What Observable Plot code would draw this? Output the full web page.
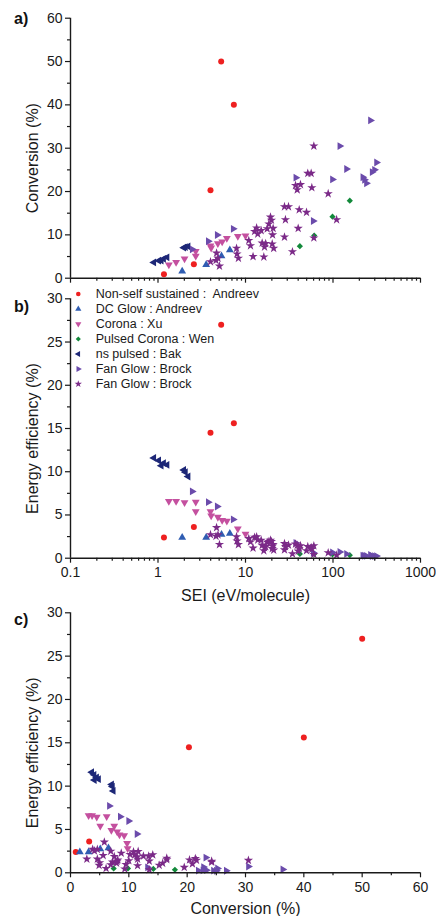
<!DOCTYPE html>
<html><head><meta charset="utf-8">
<script src="https://cdn.jsdelivr.net/npm/d3@7"></script>
<script src="https://cdn.jsdelivr.net/npm/@observablehq/plot@0.6"></script>
<style>
html,body{margin:0;padding:0;background:#fff;}
#wrap{position:relative;width:436px;height:916px;overflow:hidden;font-family:"Liberation Sans",Arial,sans-serif;}
.plabel{position:absolute;left:14px;font:bold 16px "Liberation Sans",Arial,sans-serif;color:#111;line-height:1;}
</style></head><body><div id="wrap"></div>
<script>
// ---------------- data ----------------
const seriesNames = ["Non-self sustained :  Andreev","DC Glow : Andreev","Corona : Xu","Pulsed Corona : Wen","ns pulsed : Bak","Fan Glow : Brock","Fan Glow : Brock"];

const redSEI  = [5.27,7.36,3.98,2.57,1.17];
const redConv = [50,40,20.3,3.2,0.9];
const redEE   = [27.0,15.6,14.5,3.6,2.4];

const blueSEI  = [1.89,3.55,5.32,6.62];
const blueConv = [1.6,3.1,5.1,6.5];
const blueEE   = [2.4,2.4,2.75,2.85];

const magSEI  = [1.33,1.61,2.01,2.7,2.7,3.98,4.05,4.83,5.41,6.12,8.17,10.0];
const magConv = [3.1,3.7,4.5,6.2,5.1,7.5,7.0,8.0,8.4,9.2,9.7,9.8];
const magEE   = [6.6,6.6,6.45,6.5,5.4,5.4,4.9,4.75,4.4,4.3,3.4,2.8];

const greenSEI  = [41.8,61,98.7,155.6];
const greenConv = [7.4,9.85,14.2,17.9];
const greenEE   = [0.5,0.5,0.45,0.35];

const navySEI  = [0.895,1.02,1.09,1.16,1.27,1.97,2.06,2.21];
const navyConv = [3.64,4.04,4.09,4.48,4.81,7.05,7.19,7.33];
const navyEE   = [11.6,11.3,10.7,11.0,10.8,10.2,9.95,9.45];

const purSEI  = [2.46,3.75,4.75,7.23,37.6,59.4,98.6,119.7,142.6,219,229,241,280,298,314,268];
const purConv = [6.66,8.53,9.97,11.4,23.2,13.2,22.8,30.5,25.2,23.3,22.7,21.9,24.5,25.0,26.7,36.4];
const purEE   = [7.72,6.48,5.98,4.48,1.76,0.63,0.66,0.73,0.5,0.3,0.28,0.26,0.25,0.24,0.24,0.39];

const starSEI  = [3.98,4.6,4.67,4.85,5.04,7.9,8.0,8.3,10.9,11.4,12.2,12.7,13.4,15.1,15.5,16.2,16.5,17.7,18.5,19.3,20.7,20.4,20.2,21.0,19.8,27.9,31.0,28.6,27.9,34.4,37.3,42.5,39.0,41.1,40.0,49.8,51.5,56.3,57.3,60.4,60.4,88.1,110,17.0,13.8];
const starConv = [3.8,4.1,5.8,4.6,2.8,6.9,5.6,4.6,8.7,7.5,5.0,10.8,11.6,11.0,8.1,4.9,7.2,11.4,12.5,14.1,11.5,10.0,7.9,6.9,13.4,16.5,16.5,13.5,9.5,6.1,21.4,21.6,20.4,15.8,11.5,15.2,24.2,24.2,20.9,30.5,9.3,19.5,13.5,8.0,10.2];
const starEE   = [2.72,2.54,3.54,2.70,1.58,2.49,2.00,1.58,2.27,1.88,1.17,2.42,2.47,2.08,1.49,0.86,1.24,1.84,1.93,2.08,1.58,1.40,1.11,0.94,1.93,1.69,1.52,1.35,0.97,0.51,1.64,1.45,1.49,1.10,0.82,0.87,1.34,1.23,1.04,1.44,0.44,0.63,0.35,1.34,2.11];

const seiDomain = [0.1, 1000];
const seiMajor = [0.1, 1, 10, 100, 1000];
const seiMinor = [0.2,0.3,0.4,0.5,0.6,0.7,0.8,0.9,2,3,4,5,6,7,8,9,20,30,40,50,60,70,80,90,200,300,400,500,600,700,800,900];
const convDomain = [0, 60];
const convMajor = [0,10,20,30,40,50,60];
const convMinor = [5,15,25,35,45,55];
const eeDomain = [0, 30];
const eeMajor = [0,5,10,15,20,25,30];
const eeMinor = [2.5,7.5,12.5,17.5,22.5,27.5];

const panelTags = ["a)","b)","c)"];
const axisTitles = {sei:"SEI (eV/molecule)", conv:"Conversion (%)", ee:"Energy efficiency (%)"};

// ---------------- symbols ----------------
function tri(dir){
  return {draw(ctx,size){
    const s=Math.sqrt(4*size/Math.sqrt(3)), h=s*Math.sqrt(3)/2;
    let p=[[0,-2*h/3],[s/2,h/3],[-s/2,h/3]];
    if(dir==="down") p=p.map(([x,y])=>[x,-y]);
    if(dir==="left") p=p.map(([x,y])=>[y,x]);
    if(dir==="right") p=p.map(([x,y])=>[-y,x]);
    ctx.moveTo(p[0][0],p[0][1]); ctx.lineTo(p[1][0],p[1][1]); ctx.lineTo(p[2][0],p[2][1]); ctx.closePath();
  }};
}

const series = [
  {sei:redSEI, conv:redConv, ee:redEE, symbol:d3.symbolCircle, color:"#ee2020", r:3.0},
  {sei:blueSEI, conv:blueConv, ee:blueEE, symbol:tri("up"), color:"#2f5db2", r:2.9},
  {sei:magSEI, conv:magConv, ee:magEE, symbol:tri("down"), color:"#c4509f", r:2.9},
  {sei:greenSEI, conv:greenConv, ee:greenEE, symbol:d3.symbolDiamond2, color:"#12893a", r:2.8},
  {sei:navySEI, conv:navyConv, ee:navyEE, symbol:tri("left"), color:"#1d2777", r:2.9},
  {sei:purSEI, conv:purConv, ee:purEE, symbol:tri("right"), color:"#6b4bab", r:2.9},
  {sei:starSEI, conv:starConv, ee:starEE, symbol:d3.symbolStar, color:"#7b2a88", r:2.9}
].map((s,i)=>({...s, name:seriesNames[i], rows:s.sei.map((v,j)=>({sei:v, conv:s.conv[j], ee:s.ee[j]}))}));

const FONT = '"Liberation Sans", Arial, sans-serif';
const INK = "#1a1a1a";

function dots(xk,yk){
  return series.map(S=>Plot.dot(S.rows,{x:xk,y:yk,symbol:S.symbol,fill:S.color,stroke:"none",r:S.r}));
}

function panel({top,height,mt,mb,xk,yk,xType,xDomain,xMaj,xMin,xLabels,yDomain,yMaj,yMin,xTitle,xTitleDy}){
  const marks = [
    ...dots(xk,yk),
    Plot.axisY(yMaj,{tickSize:5,tickPadding:3,label:null,stroke:INK,strokeWidth:1.2,fill:INK}),
    Plot.axisY(yMin,{tickSize:3,label:null,stroke:INK,strokeWidth:1.2,fill:"none"}),
    Plot.axisX(xMaj,{tickSize:5,tickPadding:4,label:null,stroke:INK,strokeWidth:1.2,fill:xLabels?INK:"none",tickFormat:d3.format("~g")}),
    Plot.axisX(xMin,{tickSize:3,label:null,stroke:INK,strokeWidth:1.2,fill:"none"}),
    Plot.ruleY([yDomain[0]],{stroke:INK,strokeWidth:1.4}),
    Plot.ruleX([xDomain[0]],{stroke:INK,strokeWidth:1.4}),
    Plot.text([axisTitles[yk]],{frameAnchor:"left",rotate:-90,dx:-38,dy:10,fontSize:16,fill:INK,textAnchor:"middle",lineAnchor:"middle"})
  ];
  if(xTitle) marks.push(Plot.text([axisTitles[xk]],{frameAnchor:"bottom",dy:xTitleDy,fontSize:16,fill:INK,textAnchor:"middle",lineAnchor:"middle"}));
  const svg = Plot.plot({
    width:436, height, marginLeft:70, marginRight:16, marginTop:mt, marginBottom:mb,
    x:{type:xType, domain:xDomain, label:null},
    y:{type:"linear", domain:yDomain, label:null},
    style:{fontFamily:FONT, fontSize:"14px", color:INK, background:"transparent", overflow:"visible"},
    marks
  });
  svg.style.position="absolute"; svg.style.left="0px"; svg.style.top=top+"px";
  return svg;
}

const wrap = document.getElementById("wrap");

// panel a: frame 17.7 .. 277.7
wrap.appendChild(panel({top:0,height:284,mt:17.7,mb:6.3,xk:"sei",yk:"conv",xType:"log",xDomain:seiDomain,xMaj:seiMajor,xMin:seiMinor,xLabels:false,yDomain:convDomain,yMaj:convMajor,yMin:convMinor,xTitle:false}));
// panel b: frame 298.3 .. 557.7
const svgB = panel({top:284,height:321,mt:14.3,mb:47.3,xk:"sei",yk:"ee",xType:"log",xDomain:seiDomain,xMaj:seiMajor,xMin:seiMinor,xLabels:true,yDomain:eeDomain,yMaj:eeMajor,yMin:eeMinor,xTitle:true,xTitleDy:37.8});
wrap.appendChild(svgB);
// panel c: frame 612.3 .. 872.3
wrap.appendChild(panel({top:605,height:311,mt:7.3,mb:43.7,xk:"conv",yk:"ee",xType:"linear",xDomain:convDomain,xMaj:convMajor,xMin:convMinor,xLabels:true,yDomain:eeDomain,yMaj:eeMajor,yMin:eeMinor,xTitle:true,xTitleDy:36.3}));

// legend in panel b
const lg = d3.select(svgB).append("g").attr("font-family",FONT).attr("font-size","12.5px").attr("fill",INK).attr("text-anchor","start");
series.forEach((S,i)=>{
  const y = 10 + i*15;
  lg.append("path").attr("transform",`translate(78.3,${y})`).attr("d",d3.symbol(S.symbol, Math.PI*2.3*2.3)()).attr("fill",S.color);
  lg.append("text").attr("x",95.7).attr("y",y).attr("dy","0.35em").attr("text-anchor","start").style("white-space","pre").text(S.name);
});

// panel tags
[24,311.5,625].forEach((b,i)=>{
  const d=document.createElement("div"); d.className="plabel"; d.textContent=panelTags[i];
  d.style.top=(b-13)+"px"; wrap.appendChild(d);
});
</script></body></html>
